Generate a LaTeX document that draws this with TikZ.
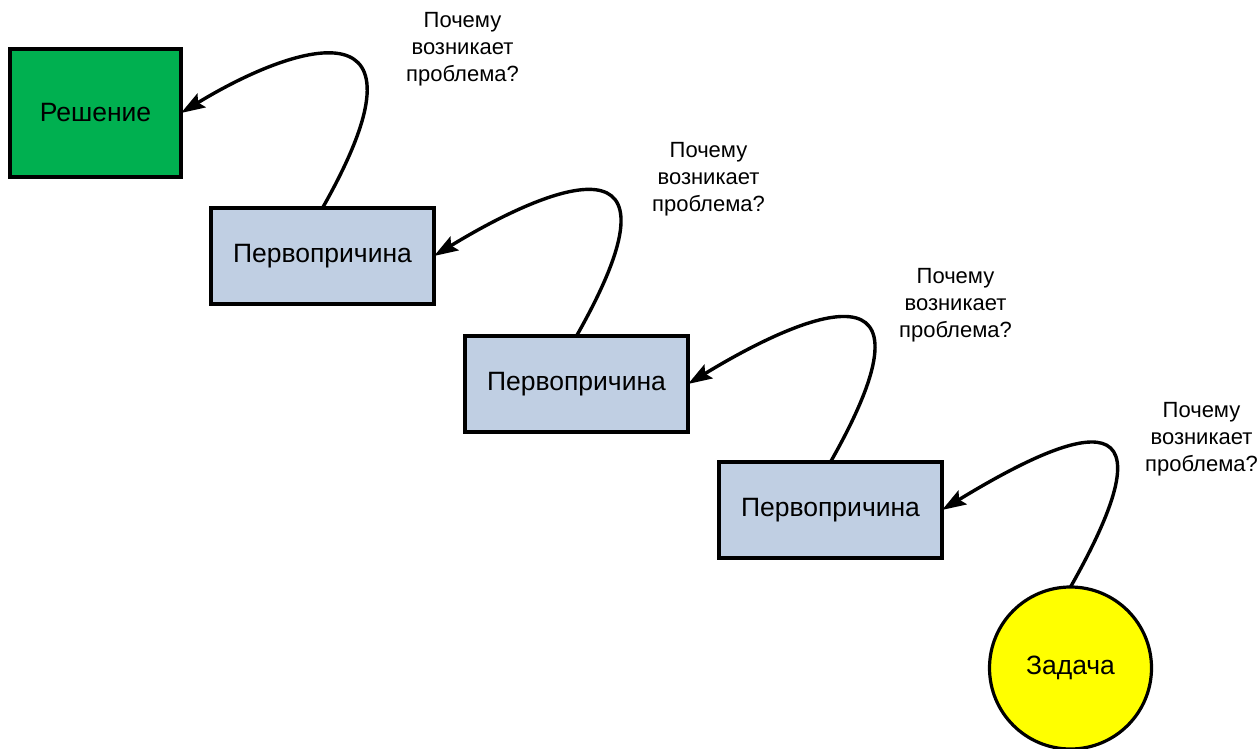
\documentclass[tikz,border=0pt]{standalone}
\usepackage{fontspec}
\setmainfont{Liberation Sans}
\usetikzlibrary{positioning,arrows.meta}
\definecolor{solgreen}{HTML}{00B050}
\definecolor{causeblue}{HTML}{C0CFE3}
\definecolor{taskyellow}{HTML}{FFFF00}

\begin{document}
\begin{tikzpicture}[
  every node/.style={line width=3.2pt, outer sep=0pt, font=\fontsize{26.5}{32}\selectfont},
  cause/.style={rectangle, draw, fill=causeblue, minimum width=223pt, minimum height=96pt},
  why/.style={align=center, font=\fontsize{22}{27}\selectfont},
  loop/.style={line width=3.4pt, -{Stealth[length=24pt,width=16pt,inset=4pt]}}
]
\useasboundingbox (0,0) rectangle (1257pt,748pt);
\node [rectangle, draw, fill=solgreen, minimum width=171pt, minimum height=128pt] (res) at (95.5pt,635pt) {Решение};
\node [cause, below right=31pt and 30pt of res] (c1) {Первопричина};
\node [cause, below right=32pt and 31pt of c1] (c2) {Первопричина};
\node [cause, below right=30pt and 31pt of c2] (c3) {Первопричина};
\node [circle, draw, fill=taskyellow, minimum size=162pt] (task) at ([xshift=240pt,yshift=-158pt]c3.center) {Задача};

\node [why] (q1) at ([shift={(140pt,159pt)}]c1.north) {Почему\\возникает\\проблема?};
\node [why] (q2) at ([shift={(132pt,157pt)}]c2.north) {Почему\\возникает\\проблема?};
\node [why] (q3) at ([shift={(125pt,157pt)}]c3.north) {Почему\\возникает\\проблема?};
\node [why] (q4) at ([shift={(131pt,148pt)}]task.north) {Почему\\возникает\\проблема?};

\draw [loop] (c1.north) .. controls ([shift={(118pt,208pt)}]c1.north) and ([shift={(118pt,72pt)}]res.east) .. (res.east);
\draw [loop] (c2.north) .. controls ([shift={(118pt,208pt)}]c2.north) and ([shift={(118pt,72pt)}]c1.east) .. (c1.east);
\draw [loop] (c3.north) .. controls ([shift={(118pt,208pt)}]c3.north) and ([shift={(118pt,72pt)}]c2.east) .. (c2.east);
\draw [loop] (task.north) .. controls ([shift={(118pt,208pt)}]task.north) and ([shift={(118pt,72pt)}]c3.east) .. (c3.east);
\end{tikzpicture}
\end{document}
